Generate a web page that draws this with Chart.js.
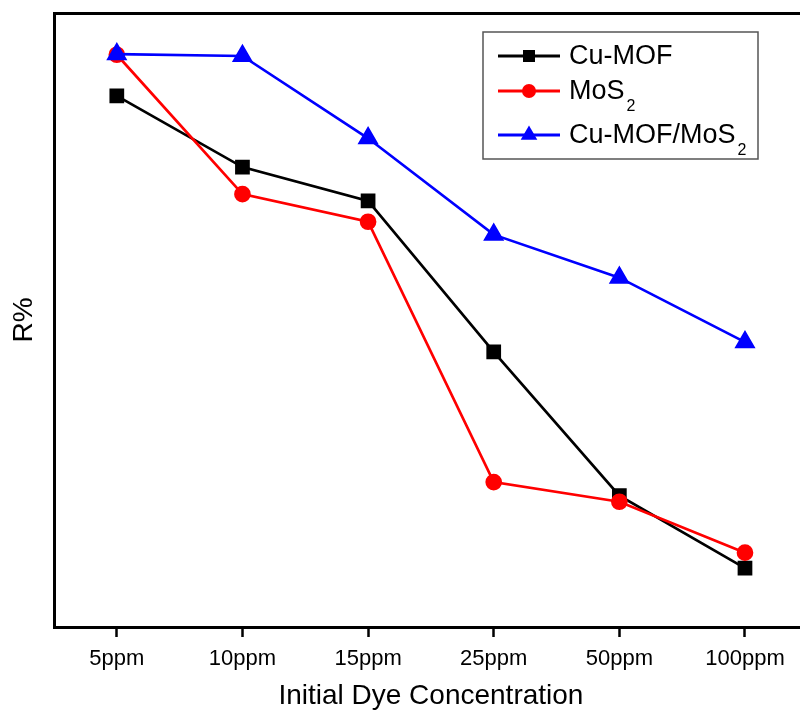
<!DOCTYPE html>
<html>

<head>
    <title>R% vs Initial Dye Concentration</title>
    <script src="https://cdn.jsdelivr.net/npm/chart.js"></script>
    <style>
        html, body { margin: 0; padding: 0; overflow: hidden; background: #fff; }
        #chart { display: block; }
    </style>
</head>

<body>
    <canvas id="chart" width="820" height="713"></canvas>
    <script>
        // values (y axis has no numbers, so 0-100 relative)
        var concentrations = ["5ppm", "10ppm", "15ppm", "25ppm", "50ppm", "100ppm"];
        var cuMof = [86.5, 74.9, 69.4, 44.8, 21.4, 9.6];
        var mos2 = [93.2, 70.5, 66.0, 23.6, 20.4, 12.1];
        var cuMofMos2 = [93.3, 93.0, 79.6, 63.9, 56.9, 46.4];
        var seriesNames = ["Cu-MOF", "MoS\u2082", "Cu-MOF/MoS\u2082"];

        var FONT = "'Liberation Sans', Arial, sans-serif";

        // legend drawn by hand so the subscript 2 looks like the original
        var boxLegend = {
            id: "boxLegend",
            afterDraw: function (chart) {
                var ctx = chart.ctx;
                var rows = [56, 91, 135];
                ctx.save();
                ctx.strokeStyle = "#555";
                ctx.lineWidth = 1.5;
                ctx.strokeRect(483, 32, 275, 127);

                chart.data.datasets.forEach(function (ds, i) {
                    var y = rows[i];
                    ctx.strokeStyle = ds.borderColor;
                    ctx.fillStyle = ds.borderColor;
                    ctx.lineWidth = 3;
                    ctx.beginPath();
                    ctx.moveTo(498, y);
                    ctx.lineTo(560, y);
                    ctx.stroke();

                    ctx.beginPath();
                    if (ds.pointStyle === "rect") {
                        ctx.rect(523, y - 6, 12, 12);
                    } else if (ds.pointStyle === "circle") {
                        ctx.arc(529, y, 7, 0, Math.PI * 2);
                    } else {
                        ctx.moveTo(529, y - 9.5);
                        ctx.lineTo(529 + 8.3, y + 4.8);
                        ctx.lineTo(529 - 8.3, y + 4.8);
                        ctx.closePath();
                    }
                    ctx.fill();

                    // text with subscript
                    ctx.fillStyle = "#000";
                    ctx.textBaseline = "middle";
                    ctx.textAlign = "left";
                    var parts = ds.label.split("\u2082");
                    ctx.font = "27px " + FONT;
                    ctx.fillText(parts[0], 569, y + 1);
                    if (parts.length > 1) {
                        var w = ctx.measureText(parts[0]).width;
                        ctx.font = "16px " + FONT;
                        ctx.fillText("2", 569 + w + 2, y + 16);
                    }
                });
                ctx.restore();
            }
        };

        var ctx = document.getElementById("chart").getContext("2d");
        new Chart(ctx, {
            type: "line",
            data: {
                labels: concentrations,
                datasets: [{
                    label: seriesNames[0],
                    data: cuMof,
                    borderColor: "#000000",
                    backgroundColor: "#000000",
                    pointStyle: "rect",
                    pointRadius: 8.5,
                    borderWidth: 2.7,
                    order: 3
                }, {
                    label: seriesNames[1],
                    data: mos2,
                    borderColor: "#ff0000",
                    backgroundColor: "#ff0000",
                    pointStyle: "circle",
                    pointRadius: 7,
                    borderWidth: 2.7,
                    order: 2
                }, {
                    label: seriesNames[2],
                    data: cuMofMos2,
                    borderColor: "#0000ff",
                    backgroundColor: "#0000ff",
                    pointStyle: "triangle",
                    pointRadius: 9.5,
                    borderWidth: 2.7,
                    order: 1
                }]
            },
            options: {
                responsive: false,
                animation: false,
                devicePixelRatio: 1,
                layout: { padding: { top: 13, right: 8, left: 0, bottom: 0 } },
                plugins: {
                    legend: { display: false },
                    tooltip: { enabled: false }
                },
                elements: {
                    point: { borderWidth: 1, hoverRadius: 8 },
                    line: { tension: 0 }
                },
                scales: {
                    x: {
                        type: "category",
                        position: "bottom",
                        offset: true,
                        grid: {
                            drawOnChartArea: false,
                            tickLength: 10,
                            tickWidth: 2.5,
                            tickColor: "#000",
                            color: "#000"
                        },
                        border: { display: true, width: 3, color: "#000" },
                        ticks: {
                            color: "#000",
                            font: { family: FONT, size: 22 },
                            padding: 9,
                            maxRotation: 0
                        },
                        title: {
                            display: true,
                            text: "Initial Dye Concentration",
                            color: "#000",
                            font: { family: FONT, size: 28 },
                            padding: { top: 0, bottom: 0 }
                        },
                        afterFit: function (scale) { scale.height = 86; }
                    },
                    x2: {
                        type: "category",
                        position: "top",
                        offset: true,
                        labels: concentrations,
                        grid: { drawOnChartArea: false, drawTicks: false },
                        border: { display: true, width: 3, color: "#000" },
                        ticks: { display: false },
                        afterFit: function (scale) { scale.height = 0; }
                    },
                    y: {
                        min: 0,
                        max: 100,
                        grid: { drawOnChartArea: false, drawTicks: false },
                        border: { display: true, width: 3, color: "#000" },
                        ticks: { display: false },
                        title: {
                            display: true,
                            text: "R%",
                            color: "#000",
                            font: { family: FONT, size: 28 },
                            padding: { top: 7, bottom: 0 }
                        },
                        afterFit: function (scale) { scale.width = 54; }
                    }
                }
            },
            plugins: [boxLegend]
        });
    </script>
</body>

</html>
